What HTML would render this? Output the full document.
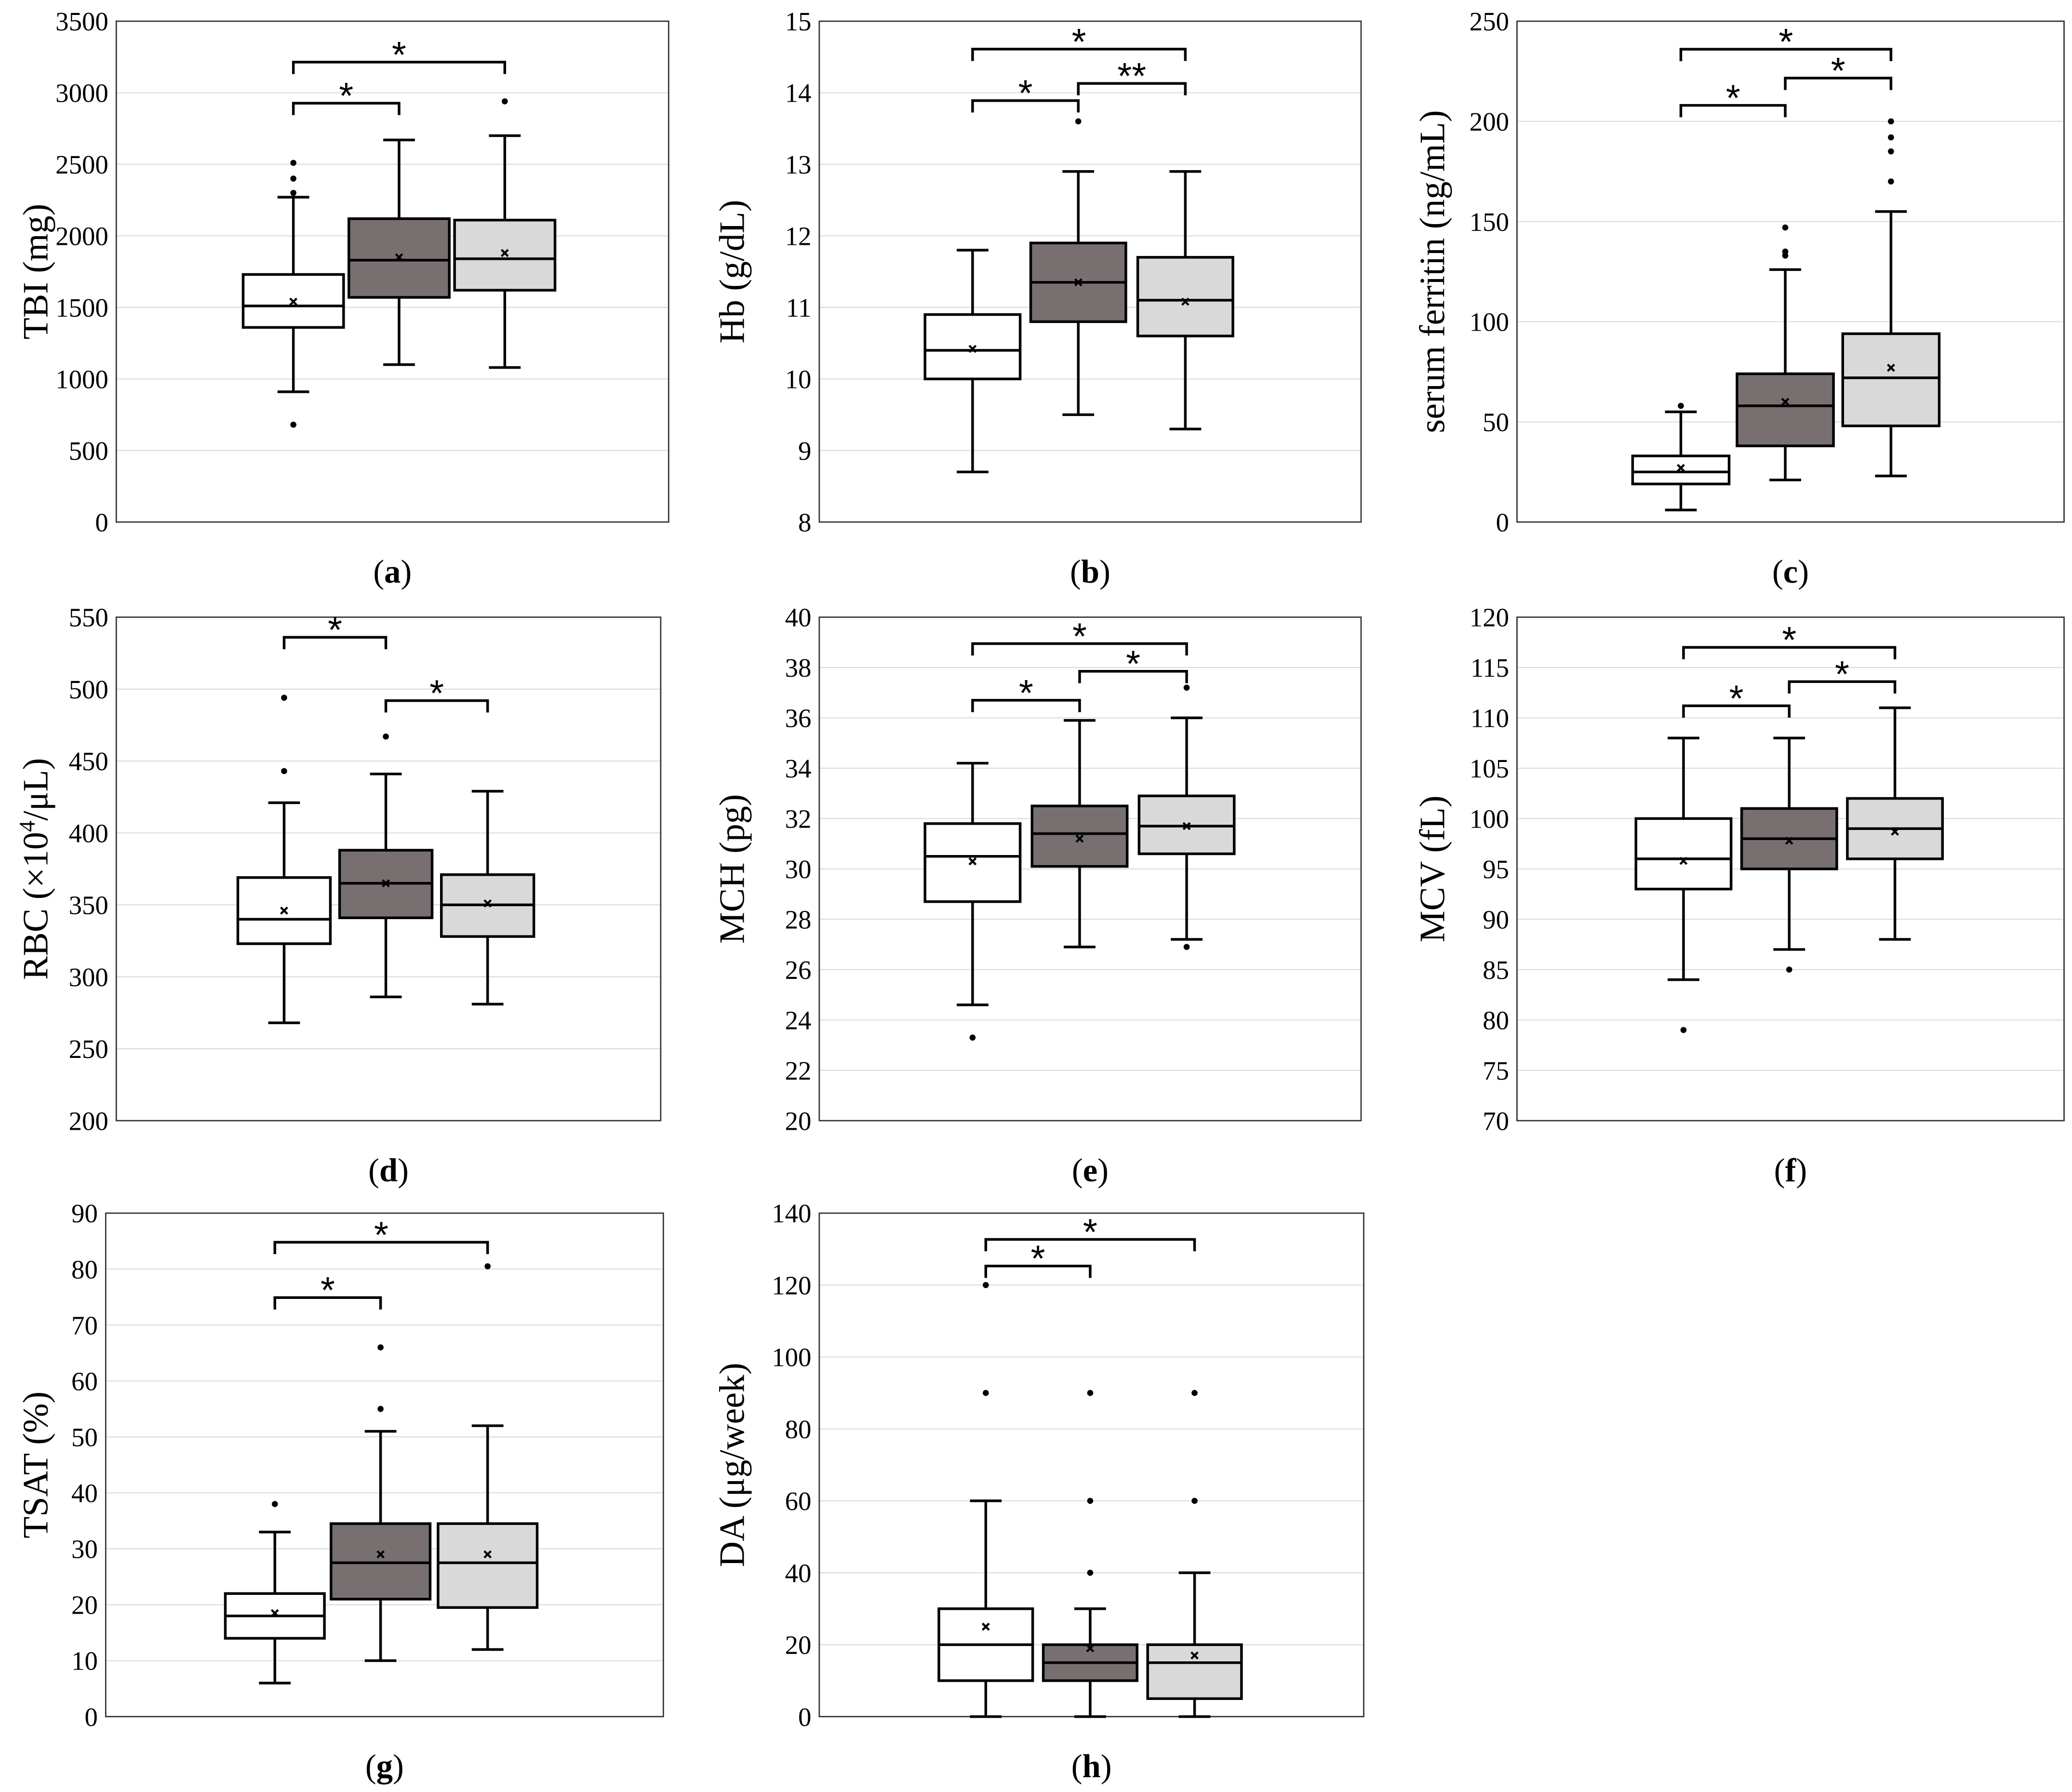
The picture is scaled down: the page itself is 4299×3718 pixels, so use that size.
<!DOCTYPE html>
<html><head><meta charset="utf-8"><style>html,body{margin:0;padding:0;background:#fff}svg{display:block}</style></head>
<body>
<svg id="fig" xmlns="http://www.w3.org/2000/svg" width="4299" height="3718" viewBox="0 0 1568 1356" font-family="'Liberation Serif', serif"></svg>
<script>
// Panel a: TBI
const aStats=[[910,1360,1510,1730,2270],[1100,1570,1830,2120,2670],[1080,1620,1840,2110,2700]];
const aMeans=[1540,1850,1880];
const aOut=[[2510,2400,2300,680],[],[2940]];
const aBr=[[0,1,2927,'*'],[0,2,3214,'*']];
// Panel b: Hb
const bStats=[[8.7,10.0,10.4,10.9,11.8],[9.5,10.8,11.35,11.9,12.9],[9.3,10.6,11.1,11.7,12.9]];
const bMeans=[10.42,11.35,11.08];
const bOut=[[],[13.6],[]];
const bBr=[[0,1,13.89,'*'],[0,2,14.61,'*'],[1,2,14.13,'**']];
// Panel c: ferritin
const cStats=[[6,19,25,33,55],[21,38,58,74,126],[23,48,72,94,155]];
const cMeans=[27,60,77];
const cOut=[[58],[133,135,147],[170,185,192,200]];
const cBr=[[0,1,208,'*'],[0,2,236,'*'],[1,2,221.6,'*']];
// Panel d: RBC
const dStats=[[268,323,340,369,421],[286,341,365,388,441],[281,328,350,371,429]];
const dMeans=[346,365,351];
const dOut=[[443,494],[467],[]];
const dBr=[[0,1,536,'*'],[1,2,492,'*']];
// Panel e: MCH
const eStats=[[24.6,28.7,30.5,31.8,34.2],[26.9,30.1,31.4,32.5,35.9],[27.2,30.6,31.7,32.9,36.0]];
const eMeans=[30.3,31.2,31.7];
const eOut=[[23.3],[],[37.2,26.9]];
const eBr=[[0,1,36.7,'*'],[0,2,38.95,'*'],[1,2,37.85,'*']];
// Panel f: MCV
const fStats=[[84,93,96,100,108],[87,95,98,101,108],[88,96,99,102,111]];
const fMeans=[95.8,97.8,98.7];
const fOut=[[79],[85],[]];
const fBr=[[0,1,111.2,'*'],[0,2,117,'*'],[1,2,113.6,'*']];
// Panel g: TSAT
const gStats=[[6,14,18,22,33],[10,21,27.5,34.5,51],[12,19.5,27.5,34.5,52]];
const gMeans=[18.5,29,29];
const gOut=[[38],[55,66],[80.5]];
const gBr=[[0,1,74.9,'*'],[0,2,84.8,'*']];
// Panel h: DA
const hStats=[[0,10,20,30,60],[0,10,15,20,30],[0,5,15,20,40]];
const hMeans=[25,19,17];
const hOut=[[90,120],[40,60,90],[60,90]];
const hBr=[[0,1,125.3,'*'],[0,2,132.7,'*']];

const fills=['#ffffff','#787070','#d9d9d9'];
const NS='http://www.w3.org/2000/svg';
const svg=document.getElementById('fig');
function mk(tag,attrs,parent){const e=document.createElementNS(NS,tag);for(const k in attrs)e.setAttribute(k,attrs[k]);(parent||svg).appendChild(e);return e;}

const panels=[
 {id:'a',x0:88,x1:506,y0:16,y1:395,min:0,max:3500,step:500,cx:[222,302,382],bw:76,title:'TBI (mg)',tx:28,s:aStats,m:aMeans,o:aOut,br:aBr},
 {id:'b',x0:620,x1:1030,y0:16,y1:395,min:8,max:15,step:1,cx:[736,816,897],bw:72,title:'Hb (g/dL)',tx:555,s:bStats,m:bMeans,o:bOut,br:bBr},
 {id:'c',x0:1148,x1:1562,y0:16,y1:395,min:0,max:250,step:50,cx:[1272,1351,1431],bw:73,title:'serum ferritin (ng/mL)',tx:1085,s:cStats,m:cMeans,o:cOut,br:cBr},
 {id:'d',x0:88,x1:500,y0:467,y1:848,min:200,max:550,step:50,cx:[215,292,369],bw:70,title:'RBC',tx:28,s:dStats,m:dMeans,o:dOut,br:dBr},
 {id:'e',x0:620,x1:1030,y0:467,y1:848,min:20,max:40,step:2,cx:[736,817,898],bw:72,title:'MCH (pg)',tx:555,s:eStats,m:eMeans,o:eOut,br:eBr},
 {id:'f',x0:1148,x1:1562,y0:467,y1:848,min:70,max:120,step:5,cx:[1274,1354,1434],bw:72,title:'MCV (fL)',tx:1085,s:fStats,m:fMeans,o:fOut,br:fBr},
 {id:'g',x0:80,x1:502,y0:918,y1:1299,min:0,max:90,step:10,cx:[208,288,369],bw:75,title:'TSAT (%)',tx:28,s:gStats,m:gMeans,o:gOut,br:gBr},
 {id:'h',x0:620,x1:1032,y0:918,y1:1299,min:0,max:140,step:20,cx:[746,825,904],bw:71,title:'DA (\u03bcg/week)',tx:555,s:hStats,m:hMeans,o:hOut,br:hBr}
];
const groupNames=['group-1','group-2','group-3'];
panels.forEach(p=>{
 const g=mk('g',{});
 
 
 const y=v=>p.y1-(v-p.min)/(p.max-p.min)*(p.y1-p.y0);
 for(let v=p.min;v<=p.max+1e-9;v+=p.step){
  const yy=y(v);
  const gl=mk('line',{x1:p.x0,x2:p.x1,y1:yy,y2:yy,stroke:'#dcdcdc','stroke-width':0.8},g);
  
  
  const t=mk('text',{x:p.x0-6,y:yy+7,'text-anchor':'end','font-size':20},g);
  t.textContent=(Math.round(v*100)/100).toString();
  
  
 }
 const fr=mk('rect',{x:p.x0,y:p.y0,width:p.x1-p.x0,height:p.y1-p.y0,fill:'none',stroke:'#333','stroke-width':1},g);
 
 
 const cy=(p.y0+p.y1)/2;
 const tt=mk('text',{x:p.tx,y:cy,'text-anchor':'middle','font-size':27,transform:`rotate(-90 ${p.tx} ${cy})`,dy:8},g);
 if(p.id==='d'){tt.innerHTML='RBC (\u00d710<tspan font-size="17" dy="-10">4</tspan><tspan dy="10">/\u03bcL)</tspan>';}
 else tt.textContent=p.title;
 
 
 const lb=mk('text',{x:(p.x0+p.x1)/2,y:p.y1+46,'text-anchor':'middle','font-size':25},g);
 lb.innerHTML='(<tspan font-weight="bold">'+p.id+'</tspan>)';
 
 
 p.s.forEach((st,i)=>{
  const cx=p.cx[i],hw=p.bw/2,cap=12;
  const bg=mk('g',{},g);
  
  
  mk('line',{x1:cx,x2:cx,y1:y(st[0]),y2:y(st[4]),stroke:'#000','stroke-width':2},bg);
  mk('line',{x1:cx-cap,x2:cx+cap,y1:y(st[0]),y2:y(st[0]),stroke:'#000','stroke-width':2},bg);
  mk('line',{x1:cx-cap,x2:cx+cap,y1:y(st[4]),y2:y(st[4]),stroke:'#000','stroke-width':2},bg);
  mk('rect',{x:cx-hw,y:y(st[3]),width:p.bw,height:y(st[1])-y(st[3]),fill:fills[i],stroke:'#000','stroke-width':2},bg);
  mk('line',{x1:cx-hw,x2:cx+hw,y1:y(st[2]),y2:y(st[2]),stroke:'#000','stroke-width':2},bg);
  const my=y(p.m[i]);
  mk('path',{d:`M${cx-2.5},${my-2.5}L${cx+2.5},${my+2.5}M${cx+2.5},${my-2.5}L${cx-2.5},${my+2.5}`,stroke:'#000','stroke-width':1.6},bg);
  p.o[i].forEach(v=>{
   const c=mk('circle',{cx:cx,cy:y(v),r:2.3,fill:'#000'},bg);
   
   
  });
 });
 p.br.forEach(b=>{
  const xa=p.cx[b[0]],xb=p.cx[b[1]],yy=y(b[2]);
  const bp=mk('path',{d:`M${xa},${yy+9}V${yy}H${xb}V${yy+9}`,fill:'none',stroke:'#000','stroke-width':2},g);
  
  
  const st=mk('text',{x:(xa+xb)/2,y:yy+4,'text-anchor':'middle','font-size':28,'font-family':"'Liberation Sans', sans-serif"},g);
  st.textContent=b[3];
  
  
 });
});
</script>
</body></html>
